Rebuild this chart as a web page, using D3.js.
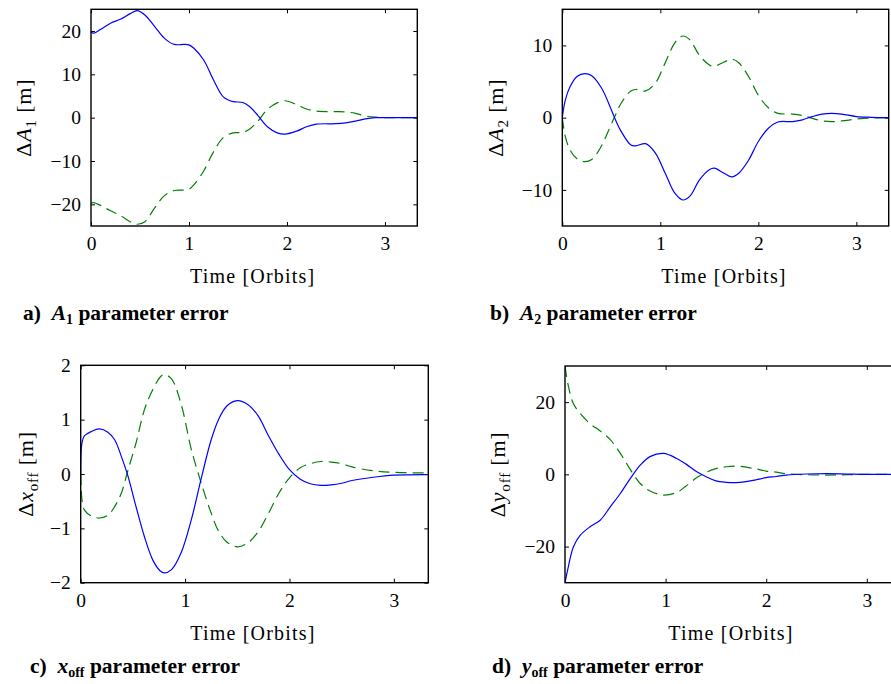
<!DOCTYPE html>
<html>
<head>
<meta charset="utf-8">
<script src="https://cdn.jsdelivr.net/npm/d3@7"></script>
<style>
  html, body { margin: 0; padding: 0; background: #fff; }
  svg { display: block; }
  text { font-family: "Liberation Serif", "Times New Roman", serif; fill: #000; }
</style>
</head>
<body>
<div id="chart"></div>
<script>
const WIDTH = 891;
const HEIGHT = 684;

// ---- data ----
// panel a: Delta A1
const tA1 = [0, 0.03, 0.1, 0.2, 0.3, 0.4, 0.47, 0.55, 0.65, 0.75, 0.85, 0.95, 1.0, 1.05, 1.15, 1.25, 1.35, 1.45, 1.55, 1.62, 1.7, 1.8, 1.9, 1.98, 2.1, 2.2, 2.3, 2.5, 2.6, 2.7, 2.8, 2.9, 3.0, 3.33];
const blueA1 = [19.7, 19.5, 20.4, 21.8, 22.7, 24.0, 24.7, 23.7, 21.0, 18.3, 16.9, 16.9, 16.8, 16.0, 13.3, 8.7, 4.8, 3.7, 3.5, 2.5, 0.6, -2.1, -3.5, -3.8, -3.1, -2.1, -1.5, -1.4, -1.2, -0.8, -0.3, 0, 0, 0];
const greenA1 = [-19.7, -19.6, -20.3, -21.5, -22.6, -24.0, -24.6, -24.0, -20.8, -18.0, -16.8, -16.7, -16.5, -15.5, -12.3, -7.9, -4.6, -3.5, -3.4, -2.6, -0.9, 1.9, 3.4, 3.9, 3.0, 2.0, 1.5, 1.4, 1.3, 1.0, 0.4, 0.1, 0, 0];

// panel b: Delta A2
const tA2 = [0, 0.03, 0.08, 0.15, 0.23, 0.3, 0.4, 0.5, 0.55, 0.6, 0.7, 0.75, 0.85, 0.95, 1.05, 1.15, 1.23, 1.3, 1.4, 1.5, 1.55, 1.65, 1.73, 1.8, 1.9, 2.0, 2.1, 2.2, 2.35, 2.45, 2.55, 2.65, 2.75, 2.85, 3.0, 3.15, 3.33];
const blueA2 = [0, 2.4, 4.3, 5.7, 6.1, 5.8, 4.1, 1.1, -0.55, -1.9, -3.8, -3.9, -3.6, -4.9, -7.7, -10.5, -11.4, -10.9, -8.6, -7.2, -7.0, -7.7, -8.2, -7.7, -5.9, -3.3, -1.5, -0.6, -0.55, -0.3, 0.15, 0.5, 0.6, 0.5, 0.15, 0.05, 0];
const greenA2 = [0, -2.6, -4.5, -5.7, -6.1, -5.8, -3.9, -0.9, 0.6, 2.0, 3.7, 3.9, 3.7, 4.8, 7.6, 10.4, 11.3, 10.8, 8.6, 7.3, 7.1, 7.7, 8.1, 7.6, 5.7, 3.1, 1.4, 0.6, 0.5, 0.3, -0.1, -0.45, -0.55, -0.45, -0.2, -0.05, 0];

// panel c: Delta x_off
const tX = [0, 0.012, 0.035, 0.1, 0.18, 0.26, 0.325, 0.39, 0.45, 0.53, 0.61, 0.69, 0.76, 0.8, 0.87, 0.96, 1.06, 1.16, 1.25, 1.32, 1.4, 1.5, 1.6, 1.7, 1.8, 1.9, 2.0, 2.1, 2.2, 2.3, 2.4, 2.5, 2.6, 2.8, 3.0, 3.33];
const blueX = [0, 0.57, 0.7, 0.78, 0.83, 0.77, 0.63, 0.32, -0.02, -0.6, -1.15, -1.58, -1.78, -1.82, -1.76, -1.46, -0.84, -0.04, 0.63, 1.0, 1.25, 1.35, 1.28, 1.07, 0.7, 0.36, 0.08, -0.09, -0.18, -0.21, -0.2, -0.17, -0.12, -0.06, -0.02, -0.01];
const greenX = [0, -0.47, -0.66, -0.77, -0.81, -0.76, -0.6, -0.35, 0.05, 0.57, 1.18, 1.55, 1.78, 1.83, 1.75, 1.3, 0.45, -0.2, -0.72, -1.05, -1.25, -1.34, -1.27, -1.06, -0.72, -0.35, -0.07, 0.11, 0.19, 0.23, 0.22, 0.19, 0.13, 0.06, 0.03, 0.02];

// panel d: Delta y_off
const tY = [0, 0.033, 0.083, 0.15, 0.25, 0.35, 0.45, 0.55, 0.65, 0.75, 0.845, 0.98, 1.11, 1.2, 1.31, 1.4, 1.5, 1.6, 1.7, 1.8, 1.9, 2.0, 2.1, 2.2, 2.4, 2.6, 2.8, 3.0, 3.33];
const blueY = [-30, -25.6, -20.1, -16.9, -14.5, -12.7, -9.0, -5.3, -1.1, 2.6, 4.9, 5.8, 4.4, 2.9, 0.7, -0.6, -1.8, -2.2, -2.3, -2.0, -1.5, -0.9, -0.6, -0.2, 0.1, 0.2, 0.1, 0, 0];
const greenY = [30, 24.5, 19.6, 16.9, 14.0, 12.0, 9.6, 5.8, 1.3, -2.6, -4.6, -5.75, -5.0, -3.3, -0.9, 0.5, 1.6, 2.1, 2.3, 2.0, 1.5, 0.9, 0.6, 0.2, -0.1, -0.2, -0.1, 0, 0];

const xTickValues = [0, 1, 2, 3];
const yTicksA1 = [-20, -10, 0, 10, 20];
const yTicksA2 = [-10, 0, 10];
const yTicksX = [-2, -1, 0, 1, 2];
const yTicksY = [-20, 0, 20];

const BLUE = '#0000ff';
const GREEN = '#008000';

// frame boxes (pixel layout of each axes) + labels
const panels = [
  { t: tA1, blue: blueA1, green: greenA1, yDomain: [-25, 25], yTicks: yTicksA1,
    box: { left: 91, right: 417.3, top: 9.3, bottom: 226 },
    sym: 'A', sub: '1', ylabX: 31, cap: 'a)', capX: 23, capY: 320 },
  { t: tA2, blue: blueA2, green: greenA2, yDomain: [-15, 15], yTicks: yTicksA2,
    box: { left: 562.3, right: 888.7, top: 9.3, bottom: 226 },
    sym: 'A', sub: '2', ylabX: 503, cap: 'b)', capX: 490, capY: 320 },
  { t: tX, blue: blueX, green: greenX, yDomain: [-2, 2], yTicks: yTicksX,
    box: { left: 80.7, right: 428.3, top: 365.3, bottom: 582.7 },
    sym: 'x', sub: 'off', ylabX: 33, cap: 'c)', capX: 30, capY: 673 },
  { t: tY, blue: blueY, green: greenY, yDomain: [-30, 30], yTicks: yTicksY,
    box: { left: 565, right: 900, top: 366, bottom: 582.7 },
    sym: 'y', sub: 'off', ylabX: 505, cap: 'd)', capX: 492, capY: 673 }
];

const svg = d3.select('#chart').append('svg')
  .attr('width', WIDTH)
  .attr('height', HEIGHT)
  .attr('viewBox', [0, 0, WIDTH, HEIGHT]);

const fmt = d3.format('');   // d3 v7 uses the real minus sign

panels.forEach((p, i) => {
  const b = p.box;
  const x = d3.scaleLinear().domain([0, 3.33]).range([b.left, b.right]);
  const y = d3.scaleLinear().domain(p.yDomain).range([b.bottom, b.top]);

  const g = svg.append('g');

  svg.append('clipPath').attr('id', `clip${i}`)
    .append('rect')
    .attr('x', b.left).attr('y', b.top)
    .attr('width', b.right - b.left).attr('height', b.bottom - b.top);

  // inward ticks on all four sides, no domain line (the frame is drawn below)
  const tickLen = 4;
  g.append('g').attr('transform', `translate(0,${b.bottom})`)
    .call(d3.axisBottom(x).tickValues(xTickValues).tickSize(-tickLen).tickPadding(10).tickFormat(fmt));
  g.append('g').attr('transform', `translate(0,${b.top})`)
    .call(d3.axisTop(x).tickValues(xTickValues).tickSize(-tickLen).tickFormat(''));
  g.append('g').attr('transform', `translate(${b.left},0)`)
    .call(d3.axisLeft(y).tickValues(p.yTicks).tickSize(-tickLen).tickPadding(10).tickFormat(fmt));
  g.append('g').attr('transform', `translate(${b.right},0)`)
    .call(d3.axisRight(y).tickValues(p.yTicks).tickSize(-tickLen).tickFormat(''));

  g.selectAll('.domain').remove();
  g.selectAll('.tick line').attr('stroke', '#000').attr('stroke-width', 1);
  g.selectAll('.tick text')
    .attr('font-size', 19.5)
    .attr('fill', '#000');

  const line = (vals) => d3.line()
    .x((d, k) => x(p.t[k]))
    .y((d) => y(d))
    .curve(d3.curveCatmullRom.alpha(0.5))(vals);

  const plot = g.append('g').attr('clip-path', `url(#clip${i})`);
  plot.append('path')
    .attr('d', line(p.green))
    .attr('fill', 'none')
    .attr('stroke', GREEN)
    .attr('stroke-width', 1.2)
    .attr('stroke-dasharray', '11,6');
  plot.append('path')
    .attr('d', line(p.blue))
    .attr('fill', 'none')
    .attr('stroke', BLUE)
    .attr('stroke-width', 1.2);

  // frame
  g.append('rect')
    .attr('x', b.left).attr('y', b.top)
    .attr('width', b.right - b.left).attr('height', b.bottom - b.top)
    .attr('fill', 'none').attr('stroke', '#000').attr('stroke-width', 1.4);

  // x label
  g.append('text')
    .attr('x', x(1.65))
    .attr('y', b.bottom + 57)
    .attr('text-anchor', 'middle')
    .attr('font-size', 20)
    .attr('letter-spacing', 1.2)
    .text('Time [Orbits]');

  // y label, rotated
  const yl = g.append('text')
    .attr('transform', `translate(${p.ylabX},${(b.top + b.bottom) / 2}) rotate(-90)`)
    .attr('text-anchor', 'middle')
    .attr('font-size', 22)
    .attr('letter-spacing', 0.8);
  yl.append('tspan').text('Δ');
  yl.append('tspan').attr('font-style', 'italic').text(p.sym);
  yl.append('tspan').attr('font-size', 15).attr('dy', 5).text(p.sub);
  yl.append('tspan').attr('dy', -5).text(' [m]');

  // caption
  const cap = svg.append('text')
    .attr('x', p.capX).attr('y', p.capY)
    .attr('font-size', 21.5)
    .attr('font-weight', 'bold');
  cap.append('tspan').text(p.cap + '\u00a0\u00a0');
  cap.append('tspan').attr('font-style', 'italic').text(p.sym);
  cap.append('tspan').attr('font-size', 14).attr('dy', 4).text(p.sub);
  cap.append('tspan').attr('dy', -4).text(' parameter error');
});
</script>
</body>
</html>
